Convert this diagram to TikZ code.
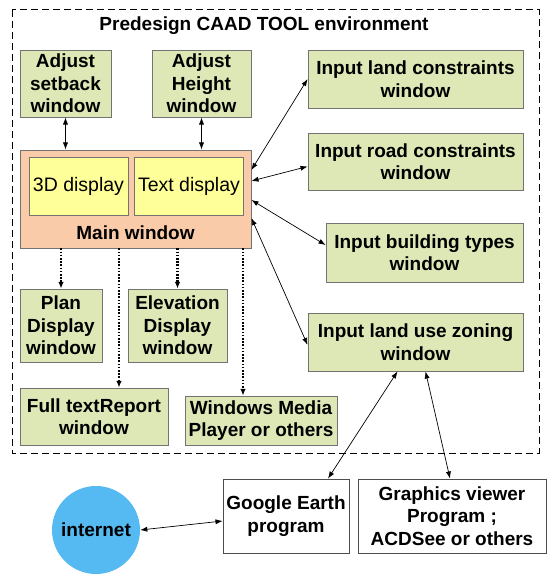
\documentclass[tikz,border=0pt]{standalone}
\usepackage{fontspec}
\setmainfont{Liberation Sans}
\usetikzlibrary{arrows.meta,positioning,calc}
\definecolor{winGreen}{RGB}{221,232,182}
\definecolor{winPeach}{RGB}{250,203,168}
\definecolor{winYellow}{RGB}{255,255,153}
\definecolor{netBlue}{RGB}{86,186,242}
\tikzset{
	wbox/.style={
		draw=black!55,
		fill=winGreen,
		align=center,
		inner sep=2pt,
		line width=0.8pt,
		font=\bfseries\fontsize{19}{22.5}\selectfont
	},
	dbox/.style={draw=black!55, fill=winYellow, line width=0.8pt, font=\fontsize{19.5}{22}\selectfont},
	pbox/.style={draw=black!70, fill=white, align=center, line width=0.8pt, font=\bfseries\fontsize{19}{22.5}\selectfont},
	link/.style={{Latex[length=2.5mm,width=1.8mm]}-{Latex[length=2.5mm,width=1.8mm]}, line width=0.7pt},
	dlink/.style={-{Latex[length=2.4mm,width=2mm]}, line width=2.2pt, dash pattern=on 1.6pt off 1.6pt}
}
\begin{document}
\begin{tikzpicture}[x=1pt, y=-1pt]
	\useasboundingbox (0,0) rectangle (547,577);
	% environment frame
	\draw[line width=1pt, dash pattern=on 7pt off 4pt] (12,10) rectangle (539,453);
	\node[font=\bfseries\fontsize{19}{22.5}\selectfont] (title) at (264,26) {Predesign CAAD TOOL environment};
	% left part
	\node[wbox, minimum width=91pt, minimum height=67pt] (setback) at (65.5,83.5) {Adjust\\setback\\window};
	\node[wbox, minimum width=99pt, minimum height=67pt] (height) at (201.5,83.5) {Adjust\\Height\\window};
	\node[draw=black!55, fill=winPeach, line width=0.8pt, minimum width=231pt, minimum height=98pt] (main) at (135.5,199) {};
	\node[dbox, minimum width=99pt, minimum height=58pt] (disp3d) at (78.5,186) {3D display};
	\node[dbox, minimum width=108pt, minimum height=58pt] (disptext) at (189,186) {Text display};
	\node[font=\bfseries\fontsize{19}{22.5}\selectfont] (mainlbl) at (135.5,233) {Main window};
	\node[wbox, minimum width=82pt, minimum height=73pt] (plan) at (61,325.5) {Plan\\Display\\window};
	\node[wbox, minimum width=99pt, minimum height=73pt] (elev) at (177.5,325.5) {Elevation\\Display\\window};
	\node[wbox, minimum width=148pt, minimum height=57pt] (report) at (94,416.5) {Full textReport\\window};
	\node[wbox, minimum width=152pt, minimum height=49pt] (media) at (261,420.5) {Windows Media\\Player or others};
	% right part
	\node[wbox, minimum width=215pt, minimum height=58pt] (land) at (415.5,79) {Input land constraints\\window};
	\node[wbox, minimum width=215pt, minimum height=57pt] (road) at (415.5,161.5) {Input road constraints\\window};
	\node[wbox, minimum width=197pt, minimum height=59pt] (building) at (424.5,252.5) {Input building types\\window};
	\node[wbox, minimum width=215pt, minimum height=58pt] (zoning) at (415.5,342) {Input land use zoning\\window};
	% outside
	\node[pbox, minimum width=118pt, minimum height=74pt] (google) at (286,516) {Google Earth\\program};
	\node[pbox, minimum width=188pt, minimum height=74pt] (viewer) at (452,516) {Graphics viewer\\Program ;\\ACDSee or others};
	\node[circle, fill=netBlue, minimum size=88pt, inner sep=0pt, font=\bfseries\fontsize{19}{22.5}\selectfont] (internet) at (96,530) {internet};
	% connectors
	\draw[link] (setback) -- (setback |- main.north);
	\draw[link] (height) -- (height |- main.north);
	\draw[link] ([yshift=29pt]main.east) -- (land.west);
	\draw[link] ([yshift=18pt]main.east) -- ([yshift=-5pt]road.west);
	\draw[link] ([yshift=-1pt]main.east) -- ([yshift=7.5pt]building.west);
	\draw[link] ([yshift=-19pt]main.east) -- ([yshift=-3pt]zoning.west);
	\draw[dlink] (plan.north |- main.south) -- (plan.north);
	\draw[dlink] ([xshift=25pt]report.north |- main.south) -- ([xshift=25pt]report.north);
	\draw[dlink] (elev.north |- main.south) -- (elev.north);
	\draw[dlink] ([xshift=-18pt]media.north |- main.south) -- ([xshift=-18pt]media.north);
	\draw[link] ([xshift=-18pt]zoning.south) -- ([xshift=42pt]google.north);
	\draw[link] ([xshift=10pt]zoning.south) -- ([xshift=-2pt]viewer.north);
	\draw[link] (internet.east) -- ([yshift=-5pt]google.west);
\end{tikzpicture}
\end{document}
